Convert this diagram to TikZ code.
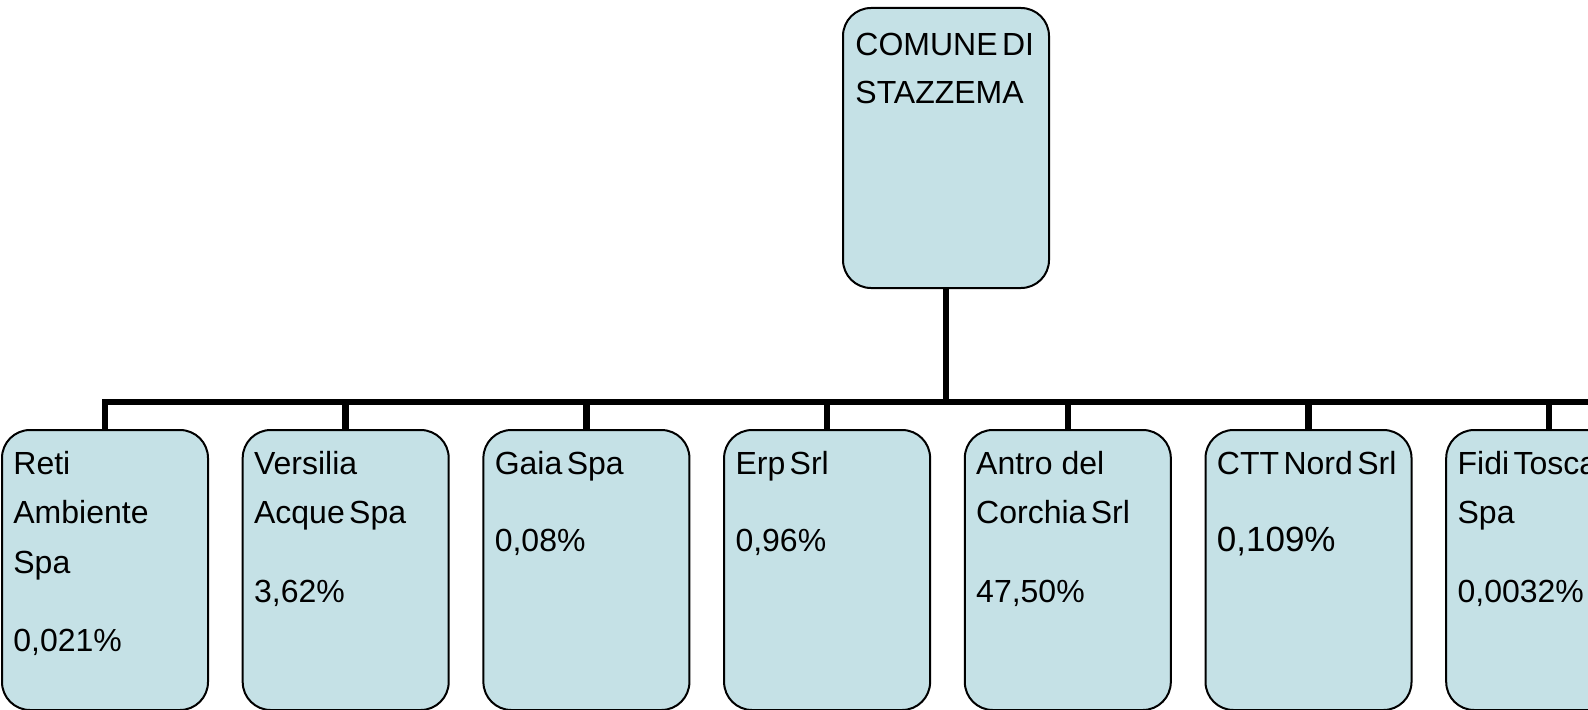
\documentclass[tikz,border=0pt]{standalone}
\usepackage{fontspec}
\setmainfont{Liberation Sans}
\usetikzlibrary{positioning}
\definecolor{boxblue}{RGB}{197,225,230}
\newcommand{\tightspace}{\spaceskip 2.2pt\relax}
\newcommand{\firstline}{\rule{0pt}{12pt}}

\begin{document}
\begin{tikzpicture}[
  x=0.5pt, y=0.5pt,
  node distance=17.35pt,
  every node/.style={font=\fontsize{16}{24.75}\selectfont\tightspace},
  orgbox/.style={draw=black, line width=1pt, fill=boxblue, rounded corners=14pt,
    minimum width=103pt, minimum height=140pt, inner sep=0pt, outer sep=0pt},
  boxtext/.style={anchor=north west, align=left, inner sep=0pt},
  link/.style={draw, line width=3.25pt, line join=miter}
]
\useasboundingbox (0,0) rectangle (1588,709);

% Root node
\node[orgbox] (comune) at (946,561) {};

% Companies, left to right
\node[orgbox] (reti) at (105,139) {};
\node[orgbox, right=of reti] (versilia) {};
\node[orgbox, right=of versilia] (gaia) {};
\node[orgbox, right=of gaia] (erp) {};
\node[orgbox, right=of erp] (antro) {};
\node[orgbox, right=of antro] (ctt) {};
\node[orgbox, right=of ctt] (fidi) {};

% Texts in the boxes
\node[boxtext] (comuneT) at ([shift={(12,-23)}]comune.north west) {\firstline COMUNE DI\\[-0.75pt]STAZZEMA};
\node[boxtext] (retiT) at ([shift={(11,-20)}]reti.north west) {\firstline Reti\\Ambiente\\Spa\\[14.5pt]0,021\%};
\node[boxtext] (versiliaT) at ([shift={(11,-20)}]versilia.north west) {\firstline Versilia\\Acque Spa\\[14.5pt]3,62\%};
\node[boxtext] (gaiaT) at ([shift={(11,-20)}]gaia.north west) {\firstline Gaia Spa\\[14pt]0,08\%};
\node[boxtext] (erpT) at ([shift={(11,-20)}]erp.north west) {\firstline Erp Srl\\[14pt]0,96\%};
\node[boxtext] (antroT) at ([shift={(11,-20)}]antro.north west) {\firstline {\spaceskip 0pt Antro del}\\Corchia Srl\\[14.5pt]47,50\%};
\node[boxtext] (cttT) at ([shift={(11,-20)}]ctt.north west) {\firstline CTT Nord Srl\\[14pt]{\fontsize{17.5}{24.75}\selectfont 0,109\%}};
\node[boxtext] (fidiT) at ([shift={(11,-20)}]fidi.north west) {\firstline Fidi Tosca\\Spa\\[14.5pt]0,0032\%};

% Connectors
\coordinate (bus) at (0,307);
\coordinate (busend) at (1588,307);
\draw[link] (comune.south) -- (comune.south |- bus);
\draw[link] (reti.north) |- (busend);
\foreach \c in {versilia,gaia,erp,antro,ctt,fidi} {
  \draw[link] (\c.north) -- (\c.north |- bus);
}
\end{tikzpicture}
\end{document}
